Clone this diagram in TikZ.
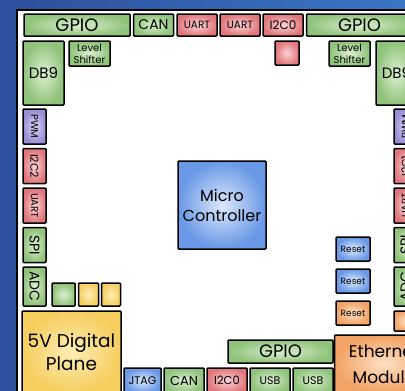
\documentclass[tikz,border=0pt]{standalone}
\usepackage{fontspec}
\setmainfont{Poppins}
\usetikzlibrary{positioning}
\definecolor{bgL}{HTML}{2B4F9C}
\definecolor{bgR}{HTML}{3A76C6}
\definecolor{grnOut}{HTML}{8FC37A}
\definecolor{grnIn}{HTML}{DCEFD0}
\definecolor{redOut}{HTML}{E0767B}
\definecolor{redIn}{HTML}{F9D3D5}
\definecolor{bluOut}{HTML}{6898E6}
\definecolor{bluIn}{HTML}{DCE8FB}
\definecolor{purOut}{HTML}{9A8CD6}
\definecolor{purIn}{HTML}{DAD4F3}
\definecolor{ylwOut}{HTML}{F6CE5E}
\definecolor{ylwIn}{HTML}{FDEDB6}
\definecolor{orgOut}{HTML}{F2A264}
\definecolor{orgIn}{HTML}{FDE0C4}

\begin{document}
\begin{tikzpicture}[x=1pt, y=-1pt, node distance=3.5pt]
    \tikzset{
      part/.style={
        draw,
        line width=1.5pt,
        rounded corners=1pt,
        inner sep=0pt,
        outer sep=0pt,
        align=center,
        shading=radial
      },
      grn/.style={part, inner color=grnIn, outer color=grnOut},
      rd/.style={part, inner color=redIn, outer color=redOut},
      blu/.style={part, inner color=bluIn, outer color=bluOut},
      pur/.style={part, inner color=purIn, outer color=purOut},
      ylw/.style={part, inner color=ylwIn, outer color=ylwOut},
      org/.style={part, inner color=orgIn, outer color=orgOut},
      sz/.style 2 args={minimum width=#1, minimum height=#2},
      fnt/.style={font=\fontsize{#1}{#1}\selectfont}
    }
    \useasboundingbox (0,0) rectangle (405,391);
    \clip (0,0) rectangle (405,391);
    % background and board
    \shade[left color=bgL, right color=bgR] (0,0) rectangle (405,391);
    \draw[fill=white, line width=2pt] (17,10) rectangle (440,420);

    % top row
    \node[grn, sz={106pt}{22pt}, fnt=18] (gpioTL) at (77,25) {GPIO};
    \node[grn, sz={40pt}{22pt}, fnt=14, right=of gpioTL] (canT) {CAN};
    \node[rd, sz={40pt}{22pt}, fnt=10.5, right=of canT] (uartTa) {UART};
    \node[rd, sz={40pt}{22pt}, fnt=10.5, right=3pt of uartTa] (uartTb) {UART};
    \node[rd, sz={40pt}{22pt}, fnt=12, right=3pt of uartTb] (iicT) {I2C0};
    \node[grn, sz={106pt}{22pt}, fnt=18, right=of iicT] (gpioTR) {GPIO};

    % second row
    \node[grn, sz={41pt}{64pt}, fnt=15] (dbL) at (43.5,73) {DB9};
    \node[grn, sz={41pt}{25pt}, font=\fontsize{10}{12}\selectfont] (lvlL) at (89.5,53.5) {Level\\Shifter};
    \node[rd, sz={24pt}{24pt}] (iicSq) at (287,53) {};
    \node[grn, sz={41pt}{25pt}, font=\fontsize{10}{12}\selectfont] (lvlR) at (349.5,53.5) {Level\\Shifter};
    \node[grn, sz={41pt}{64pt}, fnt=15] (dbR) at (396.5,73) {DB9};

    % left column
    \node[pur, sz={23pt}{35pt}, fnt=10] (pwmL) at (34.5,126.5) {\rotatebox{-90}{PWM}};
    \node[rd, sz={23pt}{35pt}, fnt=11, below=4.5pt of pwmL] (iicL) {\rotatebox{-90}{I2C2}};
    \node[rd, sz={23pt}{35pt}, fnt=10, below=4.5pt of iicL] (uartL) {\rotatebox{-90}{UART}};
    \node[grn, sz={23pt}{35pt}, fnt=14, below=4.5pt of uartL] (spiL) {\rotatebox{-90}{SPI}};
    \node[grn, sz={23pt}{39pt}, fnt=14, below=4.5pt of spiL] (adcL) {\rotatebox{-90}{ADC}};

    % right column
    \node[pur, sz={23pt}{35pt}, fnt=10] (pwmR) at (405.5,126.5) {\rotatebox{90}{PWM}};
    \node[rd, sz={23pt}{35pt}, fnt=11, below=4.5pt of pwmR] (iicR) {\rotatebox{90}{I2C1}};
    \node[rd, sz={23pt}{35pt}, fnt=10, below=4.5pt of iicR] (uartR) {\rotatebox{90}{UART}};
    \node[grn, sz={23pt}{35pt}, fnt=14, below=4.5pt of uartR] (spiR) {\rotatebox{90}{SPI}};
    \node[grn, sz={23pt}{39pt}, fnt=14, below=4.5pt of spiR] (adcR) {\rotatebox{90}{ADC}};
    \node[org, sz={23pt}{20pt}, below=5pt of adcR] (pwrR) {};

    % power squares and planes
    \node[grn, sz={23pt}{23pt}] (ledG) at (63.5,294.5) {};
    \node[ylw, sz={20pt}{23pt}, right=of ledG] (ledYa) {};
    \node[ylw, sz={19pt}{23pt}, right=3pt of ledYa] (ledYb) {};
    \node[ylw, sz={99pt}{82pt}, font=\fontsize{18.5}{23}\selectfont] (plane) at (71.5,352) {5V Digital\\Plane};
    \node[org, sz={99pt}{58pt}, font=\fontsize{17}{26}\selectfont] (eth) at (384,364) {Ethernet\\Module};

    % micro controller and resets
    \node[blu, sz={88pt}{88pt}, font=\fontsize{16}{20}\selectfont] (mcu) at (222,205) {Micro\\Controller};
    \node[blu, sz={34pt}{24pt}, fnt=9] (rstA) at (353,249) {Reset};
    \node[blu, sz={34pt}{24pt}, fnt=9, below=8pt of rstA] (rstB) {Reset};
    \node[org, sz={34pt}{24pt}, fnt=9, below=8pt of rstB] (rstC) {Reset};

    % bottom row
    \node[blu, sz={37pt}{25pt}, fnt=11] (jtag) at (142.5,380.5) {JTAG};
    \node[grn, sz={40pt}{25pt}, fnt=13, right=3pt of jtag] (canB) {CAN};
    \node[rd, sz={40pt}{25pt}, fnt=11.5, right=3pt of canB] (iicB) {I2C0};
    \node[grn, sz={40pt}{25pt}, fnt=11, right=3pt of iicB] (usbA) {USB};
    \node[grn, sz={40pt}{25pt}, fnt=11, right=3pt of usbA] (usbB) {USB};
    \node[grn, sz={105pt}{23pt}, fnt=18] (gpioB) at (280.5,351.5) {GPIO};
  \end{tikzpicture}
\end{document}
